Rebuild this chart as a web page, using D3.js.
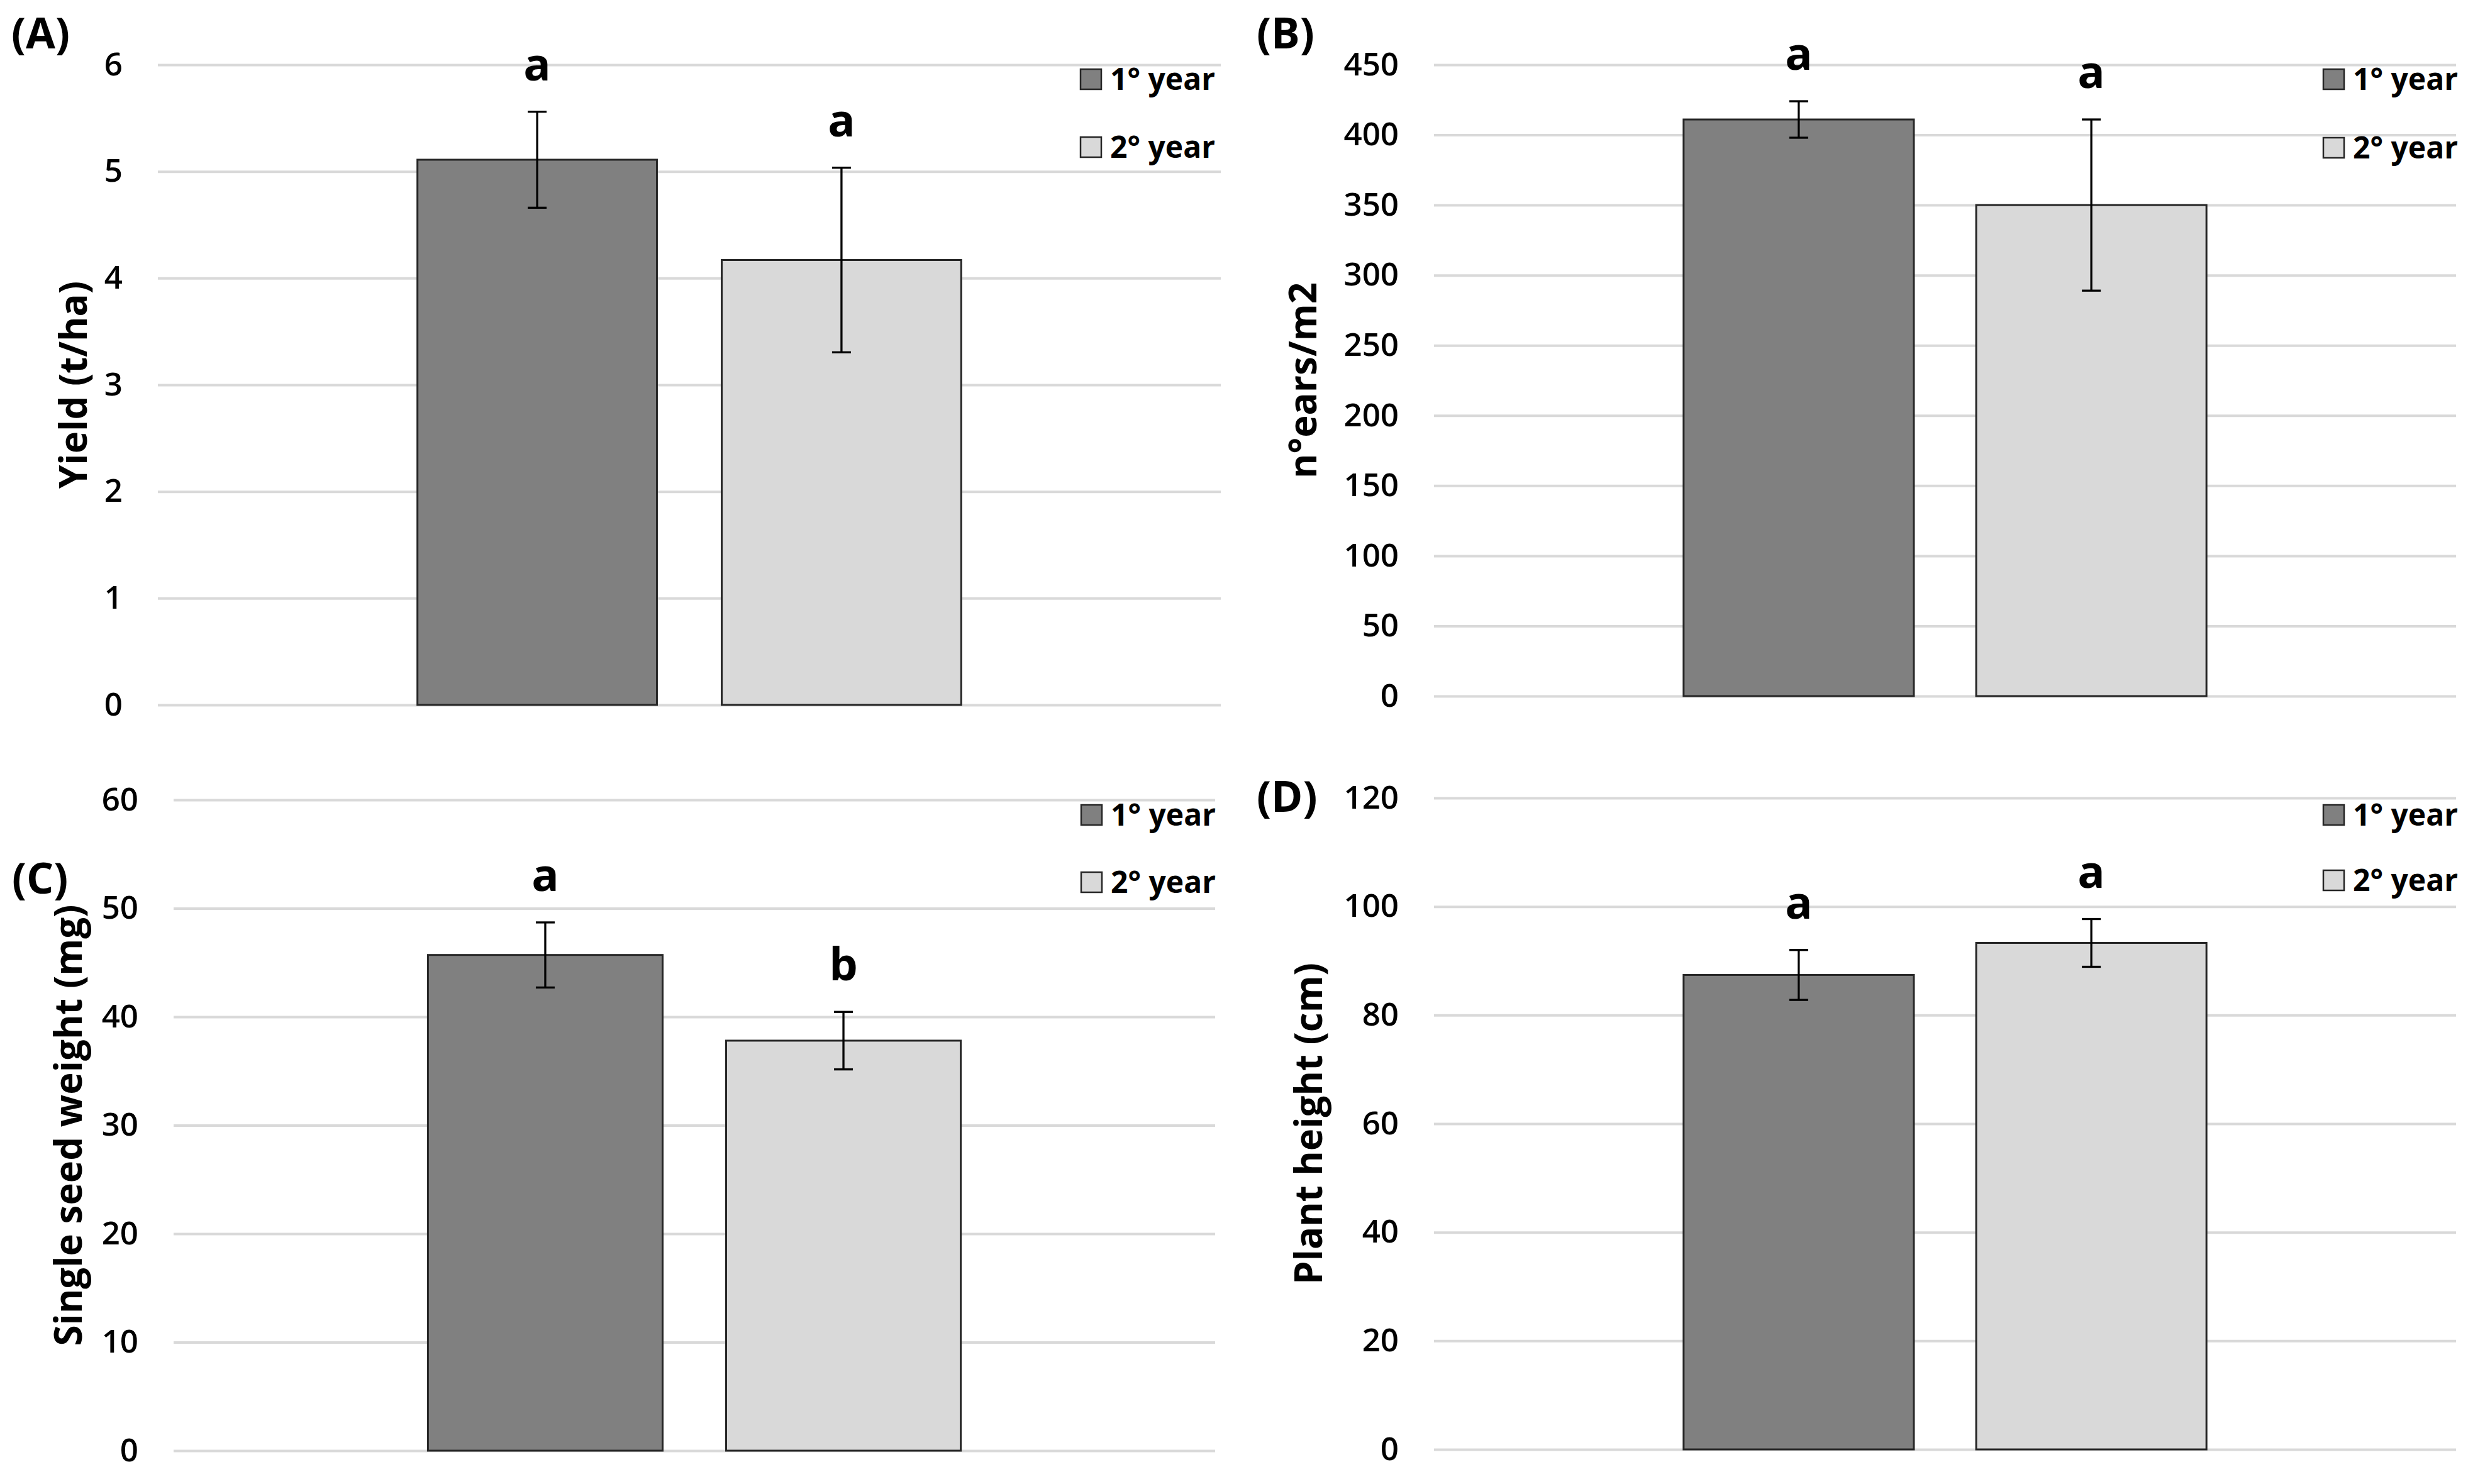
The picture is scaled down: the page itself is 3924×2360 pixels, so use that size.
<!DOCTYPE html>
<html lang="en">
<head>
  <meta charset="UTF-8">
  <title>Yield components, 1° and 2° year</title>
  <script src="https://d3js.org/d3.v7.min.js"></script>
  <style>
    * { margin: 0; padding: 0; box-sizing: border-box; }
    body { background: #fff; }
    svg { display: block; }
    text { font-family: "Open Sans", Arial, sans-serif; fill: #000; }
  </style>
</head>
<body>
  <div id="chart"></div>

  <script>
    // Data
    const series = ['1° year', '2° year'];
    const panelTags = ['(A)', '(B)', '(C)', '(D)'];
    const yTitles = ['Yield (t/ha)', 'n°ears/m2', 'Single seed weight (mg)', 'Plant height (cm)'];
    const yMax = [6, 450, 60, 120];
    const yStep = [1, 50, 10, 20];

    const yieldMean = [5.11, 4.17];
    const yieldErr = [0.45, 0.865];
    const earsMean = [411, 350];
    const earsErr = [13, 61];
    const seedMean = [45.7, 37.8];
    const seedErr = [3.0, 2.65];
    const heightMean = [87.4, 93.3];
    const heightErr = [4.6, 4.4];

    const sigLetters = [['a', 'a'], ['a', 'a'], ['a', 'b'], ['a', 'a']];

    const means = [yieldMean, earsMean, seedMean, heightMean];
    const errs = [yieldErr, earsErr, seedErr, heightErr];
    const colors = ['#808080', '#d9d9d9'];

    // Panel placement on the 3924 x 2360 page
    const layout = [
      { left: 251, right: 1941, top: 103, bottom: 1121, titleX: 115, tagX: 18, tagY: 77, legX: 1718, legY: [126, 234] },
      { left: 2280, right: 3905, top: 103, bottom: 1107, titleX: 2070, tagX: 1998, tagY: 77, legX: 3694, legY: [126, 235] },
      { left: 276, right: 1932, top: 1272, bottom: 2307, titleX: 107, tagX: 19, tagY: 1421, legX: 1719, legY: [1296, 1403] },
      { left: 2280, right: 3905, top: 1269, bottom: 2305, titleX: 2079, tagX: 1998, tagY: 1291, legX: 3694, legY: [1296, 1400] }
    ];

    const width = 3924;
    const height = 2360;

    const svg = d3.select('#chart')
      .append('svg')
      .attr('width', width)
      .attr('height', height);

    svg.append('rect').attr('width', width).attr('height', height).attr('fill', '#fff');

    layout.forEach((L, p) => {
      const g = svg.append('g');

      const y = d3.scaleLinear()
        .domain([0, yMax[p]])
        .range([L.bottom, L.top]);

      const x = d3.scaleBand()
        .domain(series)
        .range([L.left, L.right])
        .paddingInner(0.213)
        .paddingOuter(0.853);

      // gridlines + tick labels
      const axis = g.append('g')
        .attr('transform', `translate(${L.left},0)`)
        .call(d3.axisLeft(y)
          .tickValues(d3.range(0, yMax[p] + yStep[p] / 2, yStep[p]))
          .tickFormat(d3.format('d'))
          .tickSize(-(L.right - L.left))
          .tickPadding(56));
      axis.select('.domain').remove();
      axis.selectAll('.tick line')
        .attr('stroke', '#d9d9d9')
        .attr('stroke-width', 4);
      axis.selectAll('.tick text')
        .attr('font-family', '"Open Sans", Arial, sans-serif')
        .attr('font-size', 51)
        .attr('font-weight', 600)
        .attr('fill', '#000');

      const rows = series.map((s, i) => ({ s, m: means[p][i], e: errs[p][i], l: sigLetters[p][i], c: colors[i] }));

      // bars
      g.selectAll('rect.bar')
        .data(rows)
        .join('rect')
        .attr('class', 'bar')
        .attr('x', d => x(d.s))
        .attr('width', x.bandwidth())
        .attr('y', d => y(d.m))
        .attr('height', d => y(0) - y(d.m))
        .attr('fill', d => d.c)
        .attr('stroke', '#262626')
        .attr('stroke-width', 3);

      // error bars
      const eb = g.selectAll('g.err')
        .data(rows)
        .join('g')
        .attr('class', 'err')
        .attr('stroke', '#000')
        .attr('stroke-width', 3.3);
      const cx = d => x(d.s) + x.bandwidth() / 2;
      eb.append('line')
        .attr('x1', cx).attr('x2', cx)
        .attr('y1', d => y(d.m + d.e)).attr('y2', d => y(d.m - d.e));
      eb.append('line')
        .attr('x1', d => cx(d) - 15).attr('x2', d => cx(d) + 15)
        .attr('y1', d => y(d.m + d.e)).attr('y2', d => y(d.m + d.e));
      eb.append('line')
        .attr('x1', d => cx(d) - 15).attr('x2', d => cx(d) + 15)
        .attr('y1', d => y(d.m - d.e)).attr('y2', d => y(d.m - d.e));

      // significance letters
      g.selectAll('text.sig')
        .data(rows)
        .join('text')
        .attr('class', 'sig')
        .attr('x', cx)
        .attr('y', d => y(d.m + d.e) - 50)
        .attr('text-anchor', 'middle')
        .attr('font-size', 72)
        .attr('font-weight', 700)
        .text(d => d.l);

      // legend
      const leg = g.selectAll('g.leg')
        .data(rows)
        .join('g')
        .attr('class', 'leg')
        .attr('transform', (d, i) => `translate(${L.legX},${L.legY[i]})`);
      leg.append('rect')
        .attr('x', 0).attr('y', -16)
        .attr('width', 33).attr('height', 32)
        .attr('fill', d => d.c)
        .attr('stroke', '#262626')
        .attr('stroke-width', 2.5);
      leg.append('text')
        .attr('x', 47)
        .attr('dy', '0.35em')
        .attr('font-size', 48)
        .attr('font-weight', 700)
        .text(d => d.s);

      // y title
      g.append('text')
        .attr('transform', `translate(${L.titleX},${(L.top + L.bottom) / 2}) rotate(-90)`)
        .attr('text-anchor', 'middle')
        .attr('dominant-baseline', 'central')
        .attr('font-size', 60)
        .attr('font-weight', 700)
        .text(yTitles[p]);

      // panel tag
      g.append('text')
        .attr('x', L.tagX)
        .attr('y', L.tagY)
        .attr('font-size', 68)
        .attr('font-weight', 700)
        .text(panelTags[p]);
    });
  </script>
</body>
</html>
